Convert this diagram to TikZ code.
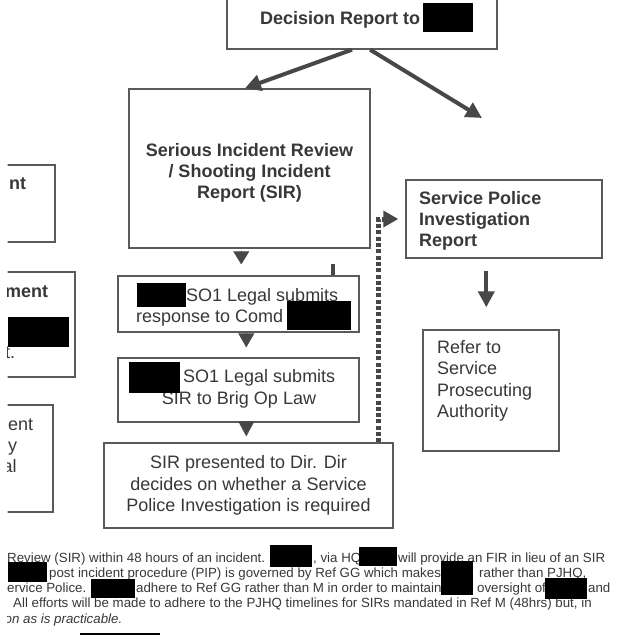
\documentclass[tikz,border=0pt]{standalone}
\usepackage{fontspec}
\setmainfont{Liberation Sans}
\usetikzlibrary{arrows.meta,calc}
\definecolor{ink}{HTML}{383838}
\definecolor{frame}{HTML}{5A5A5A}
\definecolor{arr}{HTML}{474747}
\begin{document}
\begin{tikzpicture}[x=1pt,y=-1pt,
  box/.style={draw=frame, line width=1.4pt, inner sep=0pt, rectangle},
  bigtxt/.style={text=ink, font=\fontsize{18}{21.2}\selectfont\bfseries, inner sep=0pt},
  regtxt/.style={text=ink, font=\fontsize{18}{21.3}\selectfont, inner sep=0pt},
  para/.style={text=ink, font=\fontsize{13.3}{15}\selectfont, inner sep=0pt, anchor=base west},
  redact/.style={fill=black},
  thickarrow/.style={draw=arr, line width=4pt, -{Triangle[length=16pt,width=16pt]}},
  tri/.style={draw=arr, line width=0.1pt, -{Triangle[length=#1,width=16pt]}},
  dotarrow/.style={draw=arr, line width=5pt, dash pattern=on 4pt off 2.3pt, -{Triangle[length=15pt,width=16pt]}},
]
\useasboundingbox (0,0) rectangle (635,635);
\fill[white] (0,0) rectangle (635,635);
\clip (7.5,0) rectangle (635,635);

% boxes
\node[box, minimum width=270pt, minimum height=59pt] (top) at (362,19.5) {};
\node[box, minimum width=241pt, minimum height=159pt] (sir) at (249.5,168.5) {};
\node[box, minimum width=196pt, minimum height=78pt] (spir) at (504,219) {};
\node[box, minimum width=136pt, minimum height=121pt] (refer) at (491,390.5) {};
\node[box, minimum width=241pt, minimum height=56pt] (so1a) at (238.5,304) {};
\node[box, minimum width=241pt, minimum height=64pt] (so1b) at (238.5,390) {};
\node[box, minimum width=289pt, minimum height=85pt] (sirp) at (248.5,485.5) {};
\node[box, minimum width=85pt, minimum height=77pt] (la) at (12.5,203.5) {};
\node[box, minimum width=105pt, minimum height=105pt] (lb) at (22.5,324.5) {};
\node[box, minimum width=83pt, minimum height=107pt] (lc) at (11.5,458.5) {};

% texts (base anchor of a multi-line node = baseline of its last line)
\node[bigtxt, anchor=base west] (ttop) at (260,24) {Decision Report to};
\node[bigtxt, anchor=base, align=center] (tsir) at (249.5,198.8) {Serious Incident Review\\/ Shooting Incident\\Report (SIR)};
\node[bigtxt, anchor=base west, align=left] (tspir) at (419,246.6) {Service Police\\Investigation\\Report};
\node[regtxt, anchor=base west] (tso1a1) at (186,301) {SO1 Legal submits};
\node[regtxt, anchor=base west] (tso1a2) at (136,322) {response to Comd};
\node[regtxt, anchor=base west] (tso1b1) at (183,382) {SO1 Legal submits};
\node[regtxt, anchor=base] (tso1b2) at (239,404) {SIR to Brig Op Law};
\node[regtxt, anchor=base, align=center] (tsirp) at (248.5,511.5) {SIR presented to Dir. Dir\\decides on whether a Service\\Police Investigation is required};
\node[regtxt, anchor=base west, align=left] (trefer) at (437,417.5) {Refer to\\Service\\Prosecuting\\Authority};
\node[bigtxt, anchor=base west] (tla) at (9,189) {nt};
\node[bigtxt, anchor=base west] (tlb) at (5,297) {ment};
\node[regtxt, anchor=base west] (tlb2) at (5,358) {t.};
\node[regtxt, anchor=base west] (tlc1) at (8,430) {ent};
\node[regtxt, anchor=base west] (tlc2) at (8,451) {y};
\node[regtxt, anchor=base west] (tlc3) at (2.5,472) {al};

% paragraph
\node[para] (p1a) at (7,562) {Review (SIR) within 48 hours of an incident.};
\node[para] (p1b) at (313,562) {, via HQ};
\node[para] (p1c) at (398,562) {will provide an FIR in lieu of an SIR};
\node[para] (p2a) at (49,577) {post incident procedure (PIP) is governed by Ref GG which makes};
\node[para] (p2b) at (479,577) {rather than PJHQ,};
\node[para] (p3a) at (7,592) {ervice Police.};
\node[para] (p3b) at (136,592) {adhere to Ref GG rather than M in order to maintain};
\node[para] (p3c) at (477,592) {oversight of};
\node[para] (p3d) at (588,592) {and};
\node[para] (p4) at (13,607) {All efforts will be made to adhere to the PJHQ timelines for SIRs mandated in Ref M (48hrs) but, in};
\node[para] (p5) at (4.5,623) {\itshape on as is practicable.};

% connectors
\draw[thickarrow] ($(top.south west)!0.463!(top.south east)$) -- ($(sir.north west)!0.481!(sir.north east)$);
\coordinate (rtip) at (482,118);
\draw[thickarrow] ($(top.south west)!0.53!(top.south east)$) -- (rtip);
\draw[dotarrow, shorten >=7pt] ($(sirp.north west)!0.948!(sirp.north east)$) |- (spir.west);
\coordinate (s1) at ($(spir.south west)+(81,0)$);
\draw[thickarrow, shorten <=12pt, shorten >=22pt] (s1) -- (s1 |- refer.north);
\coordinate (c1) at ($(sir.south west)+(113,0)$);
\draw[tri=13pt, shorten <=4pt, shorten >=11pt] (c1) -- (c1 |- so1a.north);
\coordinate (c2) at ($(so1a.south west)+(129,0)$);
\draw[tri=14pt, shorten <=2pt, shorten >=10pt] (c2) -- (c2 |- so1b.north);
\coordinate (c3) at ($(so1b.south west)+(129,0)$);
\draw[tri=15pt, shorten >=6pt] (c3) -- (c3 |- sirp.north);
\coordinate (stubtop) at (333,264);
\draw[draw=arr, line width=4pt] (stubtop) -- (stubtop |- so1a.north);

% redactions
\fill[redact] (423,3) rectangle (473,32);
\fill[redact] (137,283) rectangle (186,307);
\fill[redact] (287,301) rectangle (351,330);
\fill[redact] (129,362) rectangle (180,393);
\fill[redact] (8,317) rectangle (69,347);
\fill[redact] (270,545) rectangle (312,567);
\fill[redact] (359,547) rectangle (397,566);
\fill[redact] (8,562) rectangle (47,582);
\fill[redact] (441,561) rectangle (473,595);
\fill[redact] (91,579) rectangle (135,598);
\fill[redact] (545,578) rectangle (587,599);
\fill[redact] (80,633) rectangle (160,640);
\end{tikzpicture}
\end{document}
